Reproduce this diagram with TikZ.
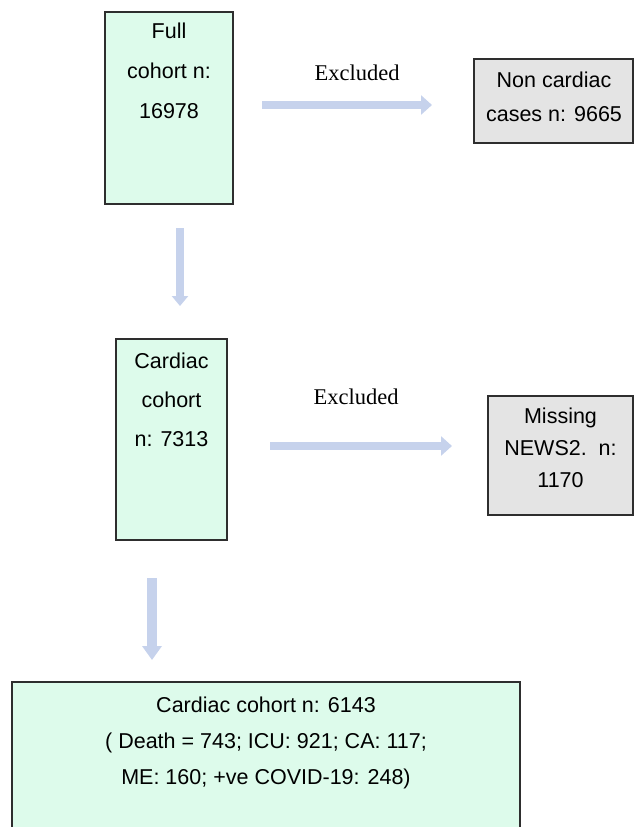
\documentclass[tikz,border=0pt]{standalone}
\usepackage{fontspec}
\setmainfont{Liberation Sans}
\newfontfamily\serifx{Liberation Serif}
\usetikzlibrary{arrows.meta}
\definecolor{boxgreen}{HTML}{DDFBEB}
\definecolor{boxgrey}{HTML}{E4E4E4}
\definecolor{boxline}{HTML}{2E2E2E}
\definecolor{arrowblue}{HTML}{C6D2EC}
\tikzset{
  greenbox/.style={draw=boxline, line width=1.1pt, fill=boxgreen},
  greybox/.style={draw=boxline, line width=1.1pt, fill=boxgrey},
  boxtext/.style={anchor=north, inner sep=0pt, align=center},
  exlabel/.style={inner sep=0pt, font=\serifx\fontsize{22.5}{26}\selectfont},
  flowarrow/.style={draw=arrowblue, line width=8.5pt, -{Triangle[width=19pt,length=11pt]}},
}
\begin{document}
\begin{tikzpicture}[x=1pt,y=-1pt]
\useasboundingbox (0,0) rectangle (635,827);
\clip (0,0) rectangle (635,827);
% boxes
\path[greenbox] (105,12) rectangle (233,204) node[pos=0.5, inner sep=0] (b1) {};
\node[boxtext, font=\fontsize{21.5}{40}\selectfont] (t1) at (169,23) {Full\\cohort n:\\16978};
\path[greybox] (474,59) rectangle (633,143) node[pos=0.5, inner sep=0] (b2) {};
\node[boxtext, font=\fontsize{21.5}{34}\selectfont] (t2) at (554,72) {Non cardiac\\cases n: 9665};
\path[greenbox] (116,339) rectangle (227,540) node[pos=0.5, inner sep=0] (b3) {};
\node[boxtext, font=\fontsize{21.5}{39}\selectfont] (t3) at (171.5,353) {Cardiac\\cohort\\n: 7313};
\path[greybox] (488,396) rectangle (633,515) node[pos=0.5, inner sep=0] (b4) {};
\node[boxtext, font=\fontsize{21.5}{32}\selectfont] (t4) at (560.5,408) {Missing\\NEWS2.\ \ n:\\1170};
\path[greenbox] (12,682) rectangle (520,840) node[pos=0.5, inner sep=0] (b5) {};
\node[boxtext, font=\fontsize{21.5}{36}\selectfont] (t5) at (266,697) {Cardiac cohort n: 6143\\( Death = 743; ICU: 921; CA: 117;\\ME: 160; +ve COVID-19: 248)};
% labels
\node[exlabel] (e1) at (357,73) {Excluded};
\node[exlabel] (e2) at (356,397) {Excluded};
% arrow endpoints
\coordinate (a1s) at (262,105);
\coordinate (a1e) at (432,105);
\coordinate (a2s) at (270,446);
\coordinate (a2e) at (452,446);
\coordinate (d1s) at (180,228);
\coordinate (d1e) at (180,306);
\coordinate (d2s) at (152,578);
\coordinate (d2e) at (152,660);
\draw[flowarrow] (a1s) -- (a1e);
\draw[flowarrow] (a2s) -- (a2e);
\draw[flowarrow, line width=8pt, -{Triangle[width=16pt,length=10pt]}] (d1s) -- (d1e);
\draw[flowarrow, line width=10pt, -{Triangle[width=19pt,length=14pt]}] (d2s) -- (d2e);
\end{tikzpicture}
\end{document}
